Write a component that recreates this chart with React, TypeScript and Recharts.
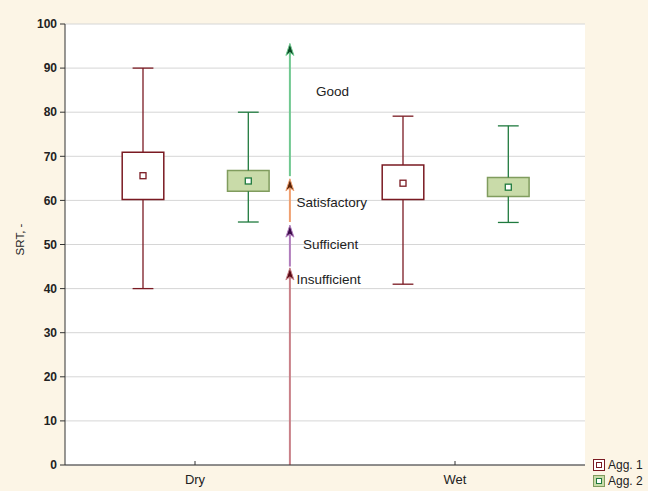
import {
  CartesianGrid,
  ComposedChart,
  Legend,
  ReferenceArea,
  ReferenceDot,
  ReferenceLine,
  Scatter,
  XAxis,
  YAxis,
} from 'recharts'

// categories sit at x = 1 and x = 3 on a numeric axis, groups are offset around them
const categories = ['Dry', 'Wet']
const categoryX = [1, 3]
const yTicks = [0, 10, 20, 30, 40, 50, 60, 70, 80, 90, 100]

const agg1Min = [40, 41]
const agg1Q1 = [60.2, 60.2]
const agg1Q3 = [70.9, 68]
const agg1Max = [90, 79.1]
const agg1Mean = [65.6, 63.9]

const agg2Min = [55.1, 55]
const agg2Q1 = [62.1, 60.9]
const agg2Q3 = [66.8, 65.2]
const agg2Max = [80, 76.9]
const agg2Mean = [64.4, 63]

// quality scale arrows
const arrowLabels = ['Insufficient', 'Sufficient', 'Satisfactory', 'Good']
const arrowFrom = [0, 45, 55.1, 65.5]
const arrowTo = [44.7, 54.4, 64.9, 95.6]
const arrowLabelX = [1.78, 1.83, 1.78, 1.93]
const arrowLabelY = [42, 49.9, 59.6, 84.6]
const arrowX = 1.73

const arrowColors = ['#c98088', '#b07cbc', '#f0a070', '#70c890']
const arrowHeadColors = ['#5a0a14', '#3a0a48', '#5a2408', '#0a4a24']

const groups = [
  {
    name: 'Agg. 1',
    offset: -0.4,
    min: agg1Min,
    q1: agg1Q1,
    q3: agg1Q3,
    max: agg1Max,
    mean: agg1Mean,
    line: '#7a1a22',
    fill: '#ffffff',
    boxStroke: '#7a1a22',
  },
  {
    name: 'Agg. 2',
    offset: 0.41,
    min: agg2Min,
    q1: agg2Q1,
    q3: agg2Q3,
    max: agg2Max,
    mean: agg2Mean,
    line: '#1f7a3e',
    fill: '#c9dba9',
    boxStroke: '#809c5e',
  },
]

const boxHalf = 0.16
const capHalf = 0.08
const font = '"Liberation Sans", Arial, sans-serif'
const textColor = '#222'

function MeanMarker(props: any) {
  const { cx, cy, stroke } = props
  if (cx == null || cy == null) return null
  return <rect x={cx - 3} y={cy - 3} width={6} height={6} fill="#fff" stroke={stroke} strokeWidth={1.3} />
}

function Arrow(props: any) {
  const { x1, y1, x2, y2, color, head } = props
  const tipY = Math.min(y1, y2)
  return (
    <g>
      <line x1={x1} y1={y1} x2={x2} y2={tipY + 8} stroke={color} strokeWidth={2} />
      <polygon
        points={`${x2},${tipY} ${x2 - 4},${tipY + 12} ${x2},${tipY + 9} ${x2 + 4},${tipY + 12}`}
        fill={head}
        stroke={color}
        strokeWidth={1}
        strokeLinejoin="round"
      />
    </g>
  )
}

function LegendContent() {
  return (
    <div style={{ fontFamily: font, fontSize: 12, color: textColor, lineHeight: '16px' }}>
      {groups.map((g) => (
        <div key={g.name} style={{ display: 'flex', alignItems: 'center' }}>
          <svg width={12} height={12} style={{ marginRight: 3 }}>
            <rect x={0.5} y={0.5} width={11} height={11} fill={g.fill} stroke={g.boxStroke} />
            <rect x={3.5} y={3.5} width={5} height={5} fill="#fff" stroke={g.line} />
          </svg>
          <span>{g.name}</span>
        </div>
      ))}
    </div>
  )
}

export default function App() {
  const meanData = groups.map((g) =>
    categoryX.map((cx, i) => ({ x: cx + g.offset, y: g.mean[i] })),
  )

  return (
    <div style={{ position: 'absolute', left: 0, top: 0, width: 648, height: 491, background: '#fcf5e6' }}>
      <ComposedChart width={648} height={491} margin={{ top: 24, right: 63, bottom: 0, left: 0 }}>
        <CartesianGrid vertical={false} stroke="#d6d6d6" fill="#ffffff" />
        <XAxis
          type="number"
          dataKey="x"
          domain={[0, 4]}
          ticks={categoryX}
          tickFormatter={(v) => categories[categoryX.indexOf(v)] ?? ''}
          height={26}
          tickSize={-4}
          tickMargin={14}
          stroke="#333"
          tick={{ fill: textColor, fontSize: 13, fontFamily: font }}
          allowDataOverflow
        />
        <XAxis
          xAxisId="top"
          orientation="top"
          type="number"
          domain={[0, 4]}
          tick={false}
          tickLine={false}
          height={0}
          stroke="#333"
        />
        <YAxis
          type="number"
          domain={[0, 100]}
          ticks={yTicks}
          width={65}
          tickSize={5}
          tickMargin={3}
          stroke="#333"
          tick={{ fill: textColor, fontSize: 12, fontFamily: font, fontWeight: 'bold' }}
          label={{
            value: 'SRT, -',
            angle: -90,
            position: 'insideLeft',
            offset: 20,
            dy: -5,
            style: { textAnchor: 'middle', fill: textColor, fontSize: 11.5, fontFamily: font },
          }}
        />
        <YAxis
          yAxisId="right"
          orientation="right"
          domain={[0, 100]}
          tick={false}
          tickLine={false}
          width={0}
          stroke="#333"
        />

        {groups.map((g) =>
          categoryX.map((cx, i) => {
            const x = cx + g.offset
            return [
              <ReferenceLine
                key={`${g.name}-lw-${i}`}
                segment={[{ x, y: g.min[i] }, { x, y: g.q1[i] }]}
                stroke={g.line}
                strokeWidth={1.3}
              />,
              <ReferenceLine
                key={`${g.name}-uw-${i}`}
                segment={[{ x, y: g.q3[i] }, { x, y: g.max[i] }]}
                stroke={g.line}
                strokeWidth={1.3}
              />,
              <ReferenceLine
                key={`${g.name}-lc-${i}`}
                segment={[{ x: x - capHalf, y: g.min[i] }, { x: x + capHalf, y: g.min[i] }]}
                stroke={g.line}
                strokeWidth={1.3}
              />,
              <ReferenceLine
                key={`${g.name}-uc-${i}`}
                segment={[{ x: x - capHalf, y: g.max[i] }, { x: x + capHalf, y: g.max[i] }]}
                stroke={g.line}
                strokeWidth={1.3}
              />,
              <ReferenceArea
                key={`${g.name}-box-${i}`}
                x1={x - boxHalf}
                x2={x + boxHalf}
                y1={g.q1[i]}
                y2={g.q3[i]}
                fill={g.fill}
                fillOpacity={1}
                stroke={g.boxStroke}
                strokeWidth={1.5}
              />,
            ]
          }),
        )}

        {arrowLabels.map((label, i) => (
          <ReferenceLine
            key={`arrow-${label}`}
            segment={[{ x: arrowX, y: arrowFrom[i] }, { x: arrowX, y: arrowTo[i] }]}
            shape={(p: any) => <Arrow {...p} color={arrowColors[i]} head={arrowHeadColors[i]} />}
          />
        ))}

        {arrowLabels.map((label, i) => (
          <ReferenceDot
            key={`label-${label}`}
            x={arrowLabelX[i]}
            y={arrowLabelY[i]}
            r={0}
            shape={(p: any) => (
              <text
                x={p.cx}
                y={p.cy}
                dominantBaseline="central"
                fill={textColor}
                fontSize={13.5}
                fontFamily={font}
              >
                {label}
              </text>
            )}
          />
        ))}

        {groups.map((g, gi) => (
          <Scatter
            key={g.name}
            name={g.name}
            data={meanData[gi]}
            dataKey="y"
            isAnimationActive={false}
            shape={(p: any) => <MeanMarker {...p} stroke={g.line} />}
          />
        ))}

        <Legend
          layout="vertical"
          align="center"
          verticalAlign="middle"
          wrapperStyle={{ left: 593, top: 457, width: 'auto' }}
          content={() => <LegendContent />}
        />
      </ComposedChart>
    </div>
  )
}
